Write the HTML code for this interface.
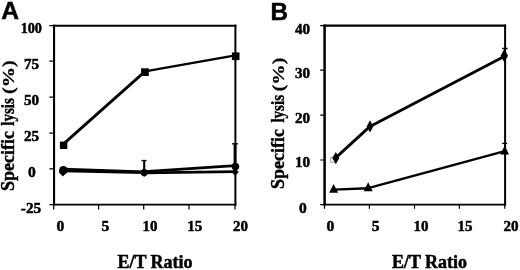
<!DOCTYPE html>
<html>
<head>
<meta charset="utf-8">
<title>Specific lysis vs E/T Ratio</title>
<style>
html,body{margin:0;padding:0;background:#fff;}
body{width:520px;height:270px;overflow:hidden;}
svg{display:block;}
.t{font-family:"Liberation Serif",serif;font-weight:bold;fill:#000;stroke:#000;stroke-width:0.5px;}
.p{font-family:"Liberation Sans",sans-serif;font-weight:bold;fill:#000;stroke:#000;stroke-width:0.5px;}
</style>
</head>
<body>
<svg width="520" height="270" viewBox="0 0 520 270">
<defs><filter id="soft" x="0" y="0" width="520" height="270" filterUnits="userSpaceOnUse"><feGaussianBlur stdDeviation="0.38"/></filter></defs>
<rect width="520" height="270" fill="#fff"/>
<g filter="url(#soft)">

<!-- ================= Panel A ================= -->
<text class="p" x="1.3" y="19.4" font-size="24.6">A</text>
<g fill="none" stroke="#000" stroke-width="2">
  <path d="M54.05 24.65V205.5" stroke-width="2.1"/><path d="M235.4 24.65V205.5" stroke-width="2"/>
  <path d="M53 25.7H236.4" stroke-width="2.1"/><path d="M53 204.6H236.4" stroke-width="1.8"/>
  <path d="M49.4 25.7H54M49.4 61.2H54M49.4 97.1H54M49.4 133.1H54M49.4 168.8H54M49.4 204.6H54" stroke-width="1.25"/>
  <path d="M53.7 205V209.6M98.6 205V209.6M143.7 205V209.6M189 205V209.6M235 205V209.6" stroke-width="1.25"/>
</g>
<g class="t">
    <text transform="translate(31.3 33.2) scale(0.94 1)" font-size="15.1" text-anchor="middle">100</text>
  <text transform="translate(31.5 69.0) scale(1.0 1)" font-size="15.1" text-anchor="middle">75</text>
  <text transform="translate(31.5 104.9) scale(1.0 1)" font-size="15.1" text-anchor="middle">50</text>
  <text transform="translate(31.5 140.9) scale(1.0 1)" font-size="15.1" text-anchor="middle">25</text>
  <text transform="translate(32 177.2) scale(1.03 1)" font-size="15.1" text-anchor="middle">0</text>
  <text transform="translate(31.0 212.6) scale(1.01 1)" font-size="15.1" text-anchor="middle">-25</text>
</g>
<g class="t">
    <text transform="translate(60.3 230.9) scale(1.03 1)" font-size="15.1" text-anchor="middle">0</text>
  <text transform="translate(105.4 230.9) scale(1.03 1)" font-size="15.1" text-anchor="middle">5</text>
  <text transform="translate(150 230.9) scale(0.99 1)" font-size="15.1" text-anchor="middle">10</text>
  <text transform="translate(194.8 230.9) scale(0.99 1)" font-size="15.1" text-anchor="middle">15</text>
  <text transform="translate(240.4 230.9) scale(0.99 1)" font-size="15.1" text-anchor="middle">20</text>
</g>
<text class="t" font-size="18" text-anchor="middle" x="155" y="268.2">E/T Ratio</text>
<text class="t" font-size="18" style="stroke-width:0.4px" transform="translate(14 191.1) rotate(-90) scale(1.0 1)">Specific</text>
<text class="t" font-size="18" style="stroke-width:0.4px" transform="translate(14 125.8) rotate(-90) scale(0.838 1)">lysis</text>
<text class="t" font-size="18" style="stroke-width:0.3px" transform="translate(14 94.1) rotate(-90) scale(1.13 0.95)">(%)</text>

<!-- series: squares -->
<polyline points="61.9,145.4 144.5,71.9" fill="none" stroke="#000" stroke-width="2.8"/>
<polyline points="145,71.4 235.4,55.4" fill="none" stroke="#000" stroke-width="2.2"/>
<g fill="#000">
  <rect x="59.9" y="141.6" width="7.4" height="7.4"/>
  <rect x="141.1" y="68.3" width="7.7" height="7.7"/>
  <rect x="231.9" y="52.4" width="7.6" height="7.7"/>
</g>
<!-- series: circles / diamonds -->
<polyline points="63,169.1 144.4,171.8" fill="none" stroke="#000" stroke-width="2.5"/>
<polyline points="144.4,171.7 235.2,165.7" fill="none" stroke="#000" stroke-width="2.8"/>
<polyline points="63,171.1 144.4,172.7" fill="none" stroke="#000" stroke-width="2.5"/>
<polyline points="144.4,172.8 235.2,171.7" fill="none" stroke="#000" stroke-width="2.8"/>
<g fill="#000">
  <circle cx="63.4" cy="170.2" r="4.3"/>
  <path d="M62.9 168L67 172.2L62.9 176.4L58.8 172.2Z"/>
  <circle cx="144.2" cy="172.5" r="3.6"/>
  <path d="M144.2 169.2L148.1 173.1L144.2 177L140.3 173.1Z"/>
  <circle cx="235.4" cy="166.5" r="3.8"/>
  <path d="M235.2 168.6L238.8 172.1L235.2 175.7L231.6 172.1Z"/>
</g>
<!-- error bars -->
<g fill="none" stroke="#000">
  <path d="M144.2 173V160.5" stroke-width="2.1"/><path d="M141.5 160.5H146.5" stroke-width="1.3"/>
  <path d="M235 166V143.8" stroke-width="2.8"/><path d="M232 143.8H238" stroke-width="1.3"/>
</g>

<!-- ================= Panel B ================= -->
<text class="p" x="270.6" y="20" font-size="24.3">B</text>
<g fill="none" stroke="#000" stroke-width="2">
  <path d="M324.6 24.6V205.45" stroke-width="2.5"/><path d="M505.1 24.6V205.45" stroke-width="2"/>
  <path d="M323.35 25.65H506.1" stroke-width="2.1"/><path d="M323.35 204.55H506.1" stroke-width="1.8"/>
  <path d="M320.2 25.65H324.8M320.2 70.2H324.8M320.2 115.1H324.8M320.2 160H324.8M320.2 204.55H324.8" stroke-width="1.2"/>
  <path d="M324.5 205V208.8M369.4 205V208.8M414.5 205V208.8M459.4 205V208.8M504.8 205V208.8" stroke-width="1.2"/>
</g>
<g class="t">
    <text transform="translate(302.6 33.9) scale(1.0 1)" font-size="15.1" text-anchor="middle">40</text>
  <text transform="translate(302.6 78.1) scale(1.0 1)" font-size="15.1" text-anchor="middle">30</text>
  <text transform="translate(302.6 123.1) scale(1.0 1)" font-size="15.1" text-anchor="middle">20</text>
  <text transform="translate(302.6 167.3) scale(1.0 1)" font-size="15.1" text-anchor="middle">10</text>
  <text transform="translate(303 212.5) scale(1.03 1)" font-size="15.1" text-anchor="middle">0</text>
</g>
<g class="t">
    <text transform="translate(330.3 230.9) scale(1.03 1)" font-size="15.1" text-anchor="middle">0</text>
  <text transform="translate(375.6 230.9) scale(1.03 1)" font-size="15.1" text-anchor="middle">5</text>
  <text transform="translate(421 230.9) scale(0.99 1)" font-size="15.1" text-anchor="middle">10</text>
  <text transform="translate(465 230.9) scale(0.99 1)" font-size="15.1" text-anchor="middle">15</text>
  <text transform="translate(511 230.9) scale(1.0 1)" font-size="15.1" text-anchor="middle">20</text>
</g>
<text class="t" font-size="18" text-anchor="middle" x="429.5" y="268.2">E/T Ratio</text>
<text class="t" font-size="18" style="stroke-width:0.4px" transform="translate(283.7 189.0) rotate(-90) scale(1.0 1)">Specific</text>
<text class="t" font-size="18" style="stroke-width:0.4px" transform="translate(283.7 122.6) rotate(-90) scale(0.838 1)">lysis</text>
<text class="t" font-size="18" style="stroke-width:0.3px" transform="translate(283.7 91.4) rotate(-90) scale(1.13 0.95)">(%)</text>

<!-- faint open square -->
<rect x="330.8" y="157.4" width="4.6" height="4.8" fill="#fff" stroke="#8a8a8a" stroke-width="0.8"/>
<!-- series: diamonds -->
<polyline points="335.6,157.9 370,126.4 504.6,56.2" fill="none" stroke="#000" stroke-width="2.8" stroke-linejoin="round"/>
<g fill="#000">
  <path d="M335.8 152.0L339.3 158.1L335.8 164.2L332.3 158.1Z"/>
  <path d="M370 120.2L373.3 126.4L370 132.6L366.7 126.4Z"/>
  <path d="M504.3 49.1L508.0 55.7L504.3 62.3L500.6 55.7Z"/>
</g>
<!-- series: triangles -->
<polyline points="333.6,189.6 368.2,188.2 504.8,151.2" fill="none" stroke="#000" stroke-width="2.4" stroke-linejoin="round"/>
<g fill="#000">
  <path d="M333.6 183.9L338.1 192.8H329.1Z"/>
  <path d="M368.2 182.3L372.7 191.2H363.7Z"/>
  <path d="M504.7 145.6L509 154.4H500.4Z"/>
</g>
<!-- error bars -->
<g fill="none" stroke="#000" stroke-width="1.3">
  <path d="M505 55V48.5M502.2 48.5H507.6"/>
  <path d="M504.8 151V143.4M502.2 143.4H507.2"/>
</g>
</g>
</svg>
</body>
</html>
